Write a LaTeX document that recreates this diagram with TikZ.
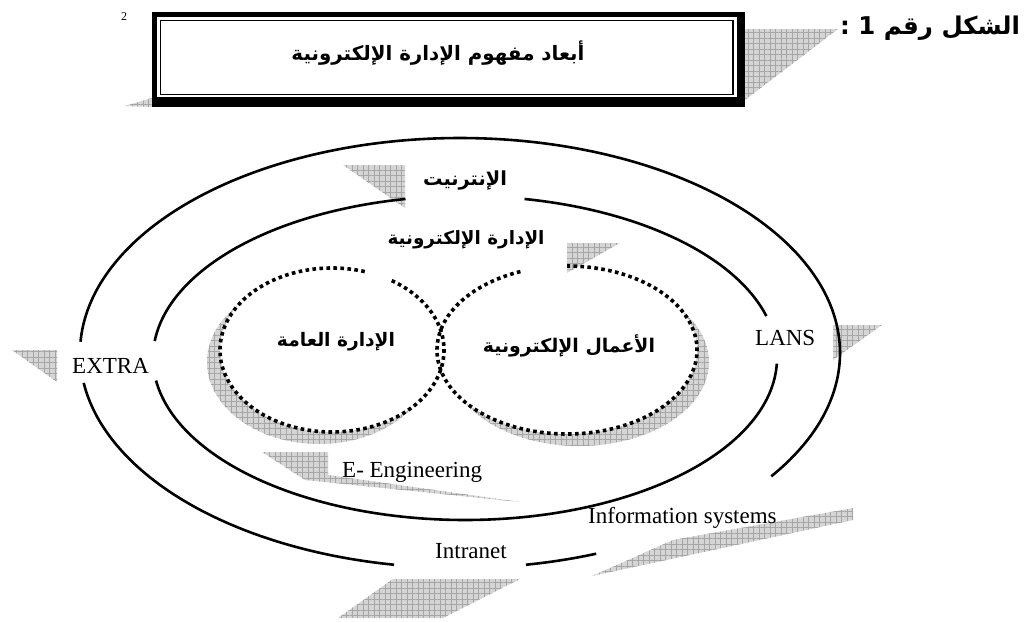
\documentclass[tikz,border=0pt]{standalone}
\usepackage{fontspec}
\usepackage{graphicx}
\setmainfont{Liberation Serif}
\newfontfamily\arabicfont[Script=Arabic]{DejaVu Sans}
\TeXXeTstate=1
\usetikzlibrary{patterns.meta}
\newcommand{\artext}[2]{\resizebox{#1pt}{!}{\arabicfont\bfseries #2}}
\tikzset{
  hatchfill/.style={fill=gray!33, postaction={pattern={Hatch[angle=0,distance=5.5pt,line width=0.45pt]}, pattern color=gray!70}},
  ring/.style={line width=2.6pt},
  dotring/.style={line width=3.6pt, dash pattern=on 3.6pt off 3.4pt},
  lat/.style={inner sep=0pt, font=\fontsize{23}{23}\selectfont},
  arlabel/.style={inner sep=0pt}
}
\begin{document}
\begin{tikzpicture}[x=1pt,y=-1pt]
\useasboundingbox (0,0) rectangle (1025,621);
\fill[white] (0,0) rectangle (1025,621);

% title callout
\fill[hatchfill] (744,29) -- (838,29) -- (745,100) -- cycle;
\fill[hatchfill] (125,106) -- (152,98) -- (152,107) -- cycle;
\fill[black] (152,12) rectangle (745,107);
\fill[white] (157,17) rectangle (737,97);
\draw[line width=1.5pt] (160.5,20.5) rectangle (733,94.5);
\node[arlabel] (title) at (438,53) {\artext{293}{\beginR أبعاد مفهوم الإدارة الإلكترونية\endR}};
\node[arlabel] (fig) at (930,28) {\artext{180}{\beginR الشكل رقم 1 :\endR}};
\node[inner sep=0pt, font=\fontsize{12}{12}\selectfont] (note) at (124,17) {2};

% shadows of the dotted ellipses
\fill[hatchfill] (319,362) ellipse [x radius=112, y radius=82];
\fill[hatchfill] (579,362) ellipse [x radius=130, y radius=84];
\fill[white] (332,350) ellipse [x radius=112, y radius=82];
\fill[white] (567,350) ellipse [x radius=130, y radius=84];

% shaded callouts
\fill[hatchfill] (343,165) -- (405,165) -- (405,208) -- cycle;
\fill[hatchfill] (567,243) -- (620,243) -- (567,273) -- cycle;
\fill[hatchfill] (12,350) -- (57,350) -- (57,382) -- cycle;
\fill[hatchfill] (833,325) -- (882,325) -- (833,360) -- cycle;
\fill[hatchfill] (262,452) -- (328,452) -- (328,475) -- (520,502) -- (305,480) -- cycle;
\fill[hatchfill] (393,579) -- (520,579) -- (443,618) -- (338,618) -- cycle;
\fill[hatchfill] (592,576) -- (673,540) -- (853,508) -- (853,520) -- cycle;

% outer ring
\draw[ring] plot[domain=188:260, samples=80] ({460+380*cos(\x)},{353-215*sin(\x)});
\draw[ring] plot[domain=280:291, samples=20] ({460+380*cos(\x)},{353-215*sin(\x)});
\draw[ring] plot[domain=325:537, samples=200] ({460+380*cos(\x)},{353-215*sin(\x)});
% inner ring
\draw[ring] plot[domain=15:79, samples=70] ({465+312*cos(\x)},{358-162*sin(\x)});
\draw[ring] plot[domain=101:174, samples=70] ({465+312*cos(\x)},{358-162*sin(\x)});
\draw[ring] plot[domain=188:358, samples=160] ({465+312*cos(\x)},{358-162*sin(\x)});

% dotted ellipses
\draw[dotring] plot[domain=73:418, samples=250] ({332+112*cos(\x)},{350-82*sin(\x)});
\draw[dotring] plot[domain=111:450, samples=250] ({567+130*cos(\x)},{350-84*sin(\x)});

% labels
\node[arlabel] (internet) at (465,181) {\artext{84}{\beginR الإنترنيت\endR}};
\node[arlabel] (eadmin) at (466,240) {\artext{157}{\beginR الإدارة الإلكترونية\endR}};
\node[arlabel] (public) at (336,342) {\artext{118}{\beginR الإدارة العامة\endR}};
\node[arlabel] (ebiz) at (569,346) {\artext{172}{\beginR الأعمال الإلكترونية\endR}};
\node[lat, anchor=base west] (extra) at (72,373) {EXTRA};
\node[lat, anchor=base west] (lans) at (755,345) {LANS};
\node[lat, anchor=base west] (eeng) at (342,477) {E- Engineering};
\node[lat, anchor=base west] (intranet) at (435,558) {Intranet};
\node[lat, anchor=base west] (infosys) at (588,523) {Information systems};
\end{tikzpicture}
\end{document}
